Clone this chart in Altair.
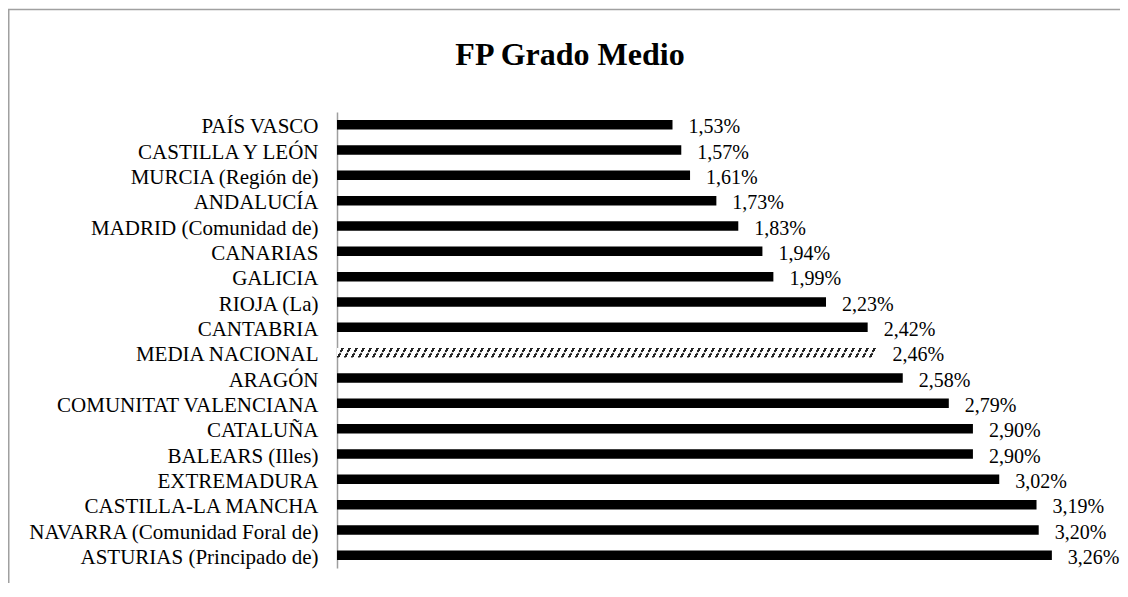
import altair as alt
import pandas as pd

regions = ["PAÍS VASCO", "CASTILLA Y LEÓN", "MURCIA (Región de)", "ANDALUCÍA",
           "MADRID (Comunidad de)", "CANARIAS", "GALICIA", "RIOJA (La)", "CANTABRIA",
           "MEDIA NACIONAL", "ARAGÓN", "COMUNITAT VALENCIANA", "CATALUÑA",
           "BALEARS (Illes)", "EXTREMADURA", "CASTILLA-LA MANCHA",
           "NAVARRA (Comunidad Foral de)", "ASTURIAS (Principado de)"]
values = [1.53, 1.57, 1.61, 1.73, 1.83, 1.94, 1.99, 2.23, 2.42, 2.46, 2.58,
          2.79, 2.90, 2.90, 3.02, 3.19, 3.20, 3.26]
highlight = "MEDIA NACIONAL"
title_text = "FP Grado Medio"

df = pd.DataFrame({"region": regions, "value": values})

FONT = "Liberation Serif"
W, H = 767.5, 456
XMAX = 3.5

# diagonal hatch gradient for the national average bar
bar_px = 2.46 / XMAX * W
bar_h = 9.5
slant = 0.5
period = 7.0 / bar_px
stops = []
t = 0.0
while t + period <= 1.0:
    a = t + period * 0.62
    b = t + period
    stops += [alt.GradientStop(offset=round(t, 5), color="white"),
              alt.GradientStop(offset=round(a, 5), color="white"),
              alt.GradientStop(offset=round(a, 5), color="#222222"),
              alt.GradientStop(offset=round(b, 5), color="#222222")]
    t += period
stops += [alt.GradientStop(offset=round(t, 5), color="white"),
          alt.GradientStop(offset=1.0, color="white")]
hatch = alt.LinearGradient(gradient="linear", stops=stops, x1=0, y1=0, x2=1,
                           y2=round(slant * bar_h / bar_px, 5))

y_enc = alt.Y("region:N", sort=regions, title=None,
              scale=alt.Scale(paddingInner=0.625, paddingOuter=0.3125),
              axis=alt.Axis(ticks=False, tickSize=0, labelPadding=19,
                            labelFont=FONT, labelFontSize=21, labelColor="black",
                            labelBaseline="alphabetic", labelOffset=8.5,
                            domainColor="#9e9e9e", domainWidth=1.5, labelLimit=400,
                            grid=False))
xscale = alt.Scale(domain=[0, XMAX], nice=False, zero=True)
x_enc = alt.X("value:Q", axis=None, scale=xscale)

base = alt.Chart(df)

bars = base.transform_filter(alt.datum.region != highlight).mark_bar(
    color="black").encode(x=x_enc, y=y_enc)

hbar = base.transform_filter(alt.datum.region == highlight).mark_bar(
    color=hatch).encode(x=x_enc, y=y_enc)

hbreak = base.transform_filter(alt.datum.region == highlight).transform_calculate(
    zero="0").mark_rule(color="white", strokeWidth=1).encode(
    x=alt.X("zero:Q", axis=None, scale=xscale), x2="value:Q", y=y_enc)

labels = base.transform_calculate(
    lab="replace(format(datum.value, '.2f'), '.', ',') + '%'"
).mark_text(align="left", baseline="alphabetic", dx=16, dy=8.5, font=FONT,
            fontSize=20, color="black").encode(x=x_enc, y=y_enc, text="lab:N")

border = alt.Chart(pd.DataFrame({"k": [0]})).mark_rect(
    fillOpacity=0, stroke="#a0a0a0", strokeWidth=1.5, clip=False
).encode(x=alt.value(-328.25), x2=alt.value(900), y=alt.value(-102.5), y2=alt.value(700))

title = alt.Chart(pd.DataFrame({"t": [title_text]})).mark_text(
    font=FONT, fontSize=32, fontWeight="bold", color="black", align="center",
    baseline="alphabetic"
).encode(text="t:N", x=alt.value(233), y=alt.value(-47))

chart = alt.layer(border, title, bars, hbar, hbreak, labels).properties(
    width=W, height=H,
    autosize=alt.AutoSizeParams(type="none"),
    padding={"left": 329, "top": 104, "right": 1112 - 329 - W, "bottom": 575 - 104 - H},
).configure(background="white", font=FONT).configure_view(stroke=None)

chart.save("out.html", embed_options={"renderer": "svg", "actions": False})
